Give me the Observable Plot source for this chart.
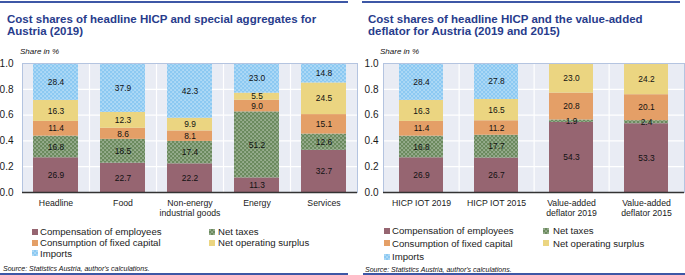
<!DOCTYPE html>
<html><head><meta charset="utf-8">
<script src="https://cdn.jsdelivr.net/npm/d3@7"></script>
<script src="https://cdn.jsdelivr.net/npm/@observablehq/plot@0.6"></script>
<style>
body{margin:0;background:#fff;font-family:"Liberation Sans",Arial,sans-serif;}
#wrap{position:relative;width:685px;height:275px;overflow:hidden;}
.abs{position:absolute;white-space:nowrap;}
.title{font-weight:bold;font-size:11.5px;line-height:12.5px;color:#283c8c;}
.unit{font-style:italic;font-size:8px;color:#111;}
.src{font-style:italic;font-size:7px;color:#111;}
.hline{position:absolute;height:1.5px;background:#3d57a6;}
.leg{position:absolute;font-size:9.6px;color:#222;line-height:11px;white-space:nowrap;}
.sw{position:absolute;}
.chart{position:absolute;top:55px;}
</style></head>
<body>
<svg width="0" height="0" style="position:absolute">
  <defs>
    <pattern id="dotsGreen" width="4" height="4" patternUnits="userSpaceOnUse">
      <rect width="4" height="4" fill="#6b8a5e"></rect>
      <rect x="0.5" y="0.5" width="1.1" height="1.1" fill="#ffffff" fill-opacity="0.85"></rect>
      <rect x="2.5" y="2.5" width="1.1" height="1.1" fill="#ffffff" fill-opacity="0.85"></rect>
    </pattern>
    <pattern id="dotsBlue" width="4" height="4" patternUnits="userSpaceOnUse">
      <rect width="4" height="4" fill="#8cc9f2"></rect>
      <rect x="0.5" y="0.5" width="1.1" height="1.1" fill="#ffffff" fill-opacity="0.85"></rect>
      <rect x="2.5" y="2.5" width="1.1" height="1.1" fill="#ffffff" fill-opacity="0.85"></rect>
    </pattern>
  </defs>
</svg>
<div id="wrap"></div>
<script>
// ---- data ----
const seriesNames = ["Compensation of employees", "Net taxes", "Consumption of fixed capital", "Net operating surplus", "Imports"];
const seriesColors = ["#966571", "url(#dotsGreen)", "#e49f67", "#ebd581", "url(#dotsBlue)"];

const leftCategories = ["Headline", "Food", "Non-energy industrial goods", "Energy", "Services"];
const leftTickLabels = ["Headline", "Food", "Non-energy\nindustrial goods", "Energy", "Services"];
const leftComp    = [26.9, 22.7, 22.2, 11.3, 32.7];
const leftTaxes   = [16.8, 18.5, 17.4, 51.2, 12.6];
const leftCfc     = [11.4, 8.6, 8.1, 9.0, 15.1];
const leftNos     = [16.3, 12.3, 9.9, 5.5, 24.5];
const leftImports = [28.4, 37.9, 42.3, 23.0, 14.8];

const rightCategories = ["HICP IOT 2019", "HICP IOT 2015", "Value-added deflator 2019", "Value-added deflator 2015"];
const rightTickLabels = ["HICP IOT 2019", "HICP IOT 2015", "Value-added\ndeflator 2019", "Value-added\ndeflator 2015"];
const rightComp    = [26.9, 26.7, 54.3, 53.3];
const rightTaxes   = [16.8, 17.7, 1.9, 2.4];
const rightCfc     = [11.4, 11.2, 20.8, 20.1];
const rightNos     = [16.3, 16.5, 23.0, 24.2];
const rightImports = [28.4, 27.8, 0, 0];

const yTicks = [0, 0.2, 0.4, 0.6, 0.8, 1.0];
const gridTicks = [0.2, 0.4, 0.6, 0.8];

const leftTitle = ["Cost shares of headline HICP and special aggregates for", "Austria (2019)"];
const rightTitle = ["Cost shares of headline HICP and the value-added", "deflator for Austria (2019 and 2015)"];
const unitText = "Share in %";
const sourceText = "Source: Statistics Austria, author's calculations.";

// ---- helpers ----
function table(cats, seriesValues) {
  const rows = [];
  seriesValues.forEach((vals, i) => {
    vals.forEach((v, j) => {
      if (v > 0) rows.push({cat: cats[j], series: seriesNames[i], pct: v, value: v / 100});
    });
  });
  return rows;
}

function chart({cats, labels, values, width, ml, mr, pad, yPad}) {
  const data = table(cats, values);
  const step = (width - ml - mr) / cats.length;
  return Plot.plot({
    width, height: 167,
    marginLeft: ml, marginRight: mr, marginTop: 8, marginBottom: 30,
    style: {background: "transparent", overflow: "visible", fontFamily: "'Liberation Sans', Arial, sans-serif", color: "#1a1a1a"},
    x: {domain: cats, paddingInner: pad, paddingOuter: pad / 2, label: null, axis: null},
    y: {domain: [0, 1], label: null, axis: null},
    color: {domain: seriesNames, range: seriesColors},
    marks: [
      Plot.frame({fill: "#e9ecf4", stroke: null}),
      Plot.ruleY(gridTicks, {stroke: "white", strokeWidth: 1.2}),
      Plot.ruleX(cats.slice(0, -1), {x: d => d, stroke: "white", strokeWidth: 1.2, dx: step / 2}),
      Plot.barY(data, {x: "cat", y: "value", fill: "series", order: seriesNames}),
      Plot.text(data, Plot.stackY({x: "cat", y: "value", z: "series", order: seriesNames,
        text: d => d.pct.toFixed(1), fontSize: 8.4, fill: "#111"})),
      Plot.frame({stroke: "#b4c4e0"}),
      Plot.ruleY([0], {stroke: "#333", strokeWidth: 1.6}),
      Plot.axisY(yTicks, {tickFormat: d3.format(".1f"), tickSize: 0, tickPadding: yPad, fontSize: 10, label: null}),
      Plot.axisX({tickSize: 0, tickPadding: 6, fontSize: 8.7, lineHeight: 1.2, label: null,
        tickFormat: d => labels[cats.indexOf(d)]})
    ]
  });
}

const wrap = document.getElementById("wrap");
function add(html, cls, style) {
  const el = document.createElement("div");
  el.className = cls;
  Object.assign(el.style, style);
  el.innerHTML = html;
  wrap.appendChild(el);
  return el;
}

// lines
add("", "hline", {left: "0px", top: "1px", width: "348px"});
add("", "hline", {left: "362px", top: "1px", width: "318px"});
add("", "hline", {left: "0px", top: "273px", width: "348px"});
add("", "hline", {left: "363px", top: "273px", width: "322px"});

// titles
add(leftTitle.join("<br>"), "abs title", {left: "7px", top: "12.5px"});
add(rightTitle.join("<br>"), "abs title", {left: "368px", top: "12.5px"});
add(unitText, "abs unit", {left: "20px", top: "47px"});
add(unitText, "abs unit", {left: "380px", top: "47px"});

// charts
const c1 = chart({cats: leftCategories, labels: leftTickLabels,
  values: [leftComp, leftTaxes, leftCfc, leftNos, leftImports],
  width: 360, ml: 22, mr: 3, pad: 0.33, yPad: 9});
c1.classList.add("chart"); c1.style.left = "0px"; c1.style.position = "absolute"; c1.style.top = "55px";
wrap.appendChild(c1);
const c2 = chart({cats: rightCategories, labels: rightTickLabels,
  values: [rightComp, rightTaxes, rightCfc, rightNos, rightImports],
  width: 340, ml: 38, mr: 1, pad: 0.415, yPad: 5});
c2.classList.add("chart"); c2.style.left = "345px"; c2.style.position = "absolute"; c2.style.top = "55px";
wrap.appendChild(c2);

// legends
function legend(items) {
  items.forEach(([i, sx, tx, cy]) => {
    const s = document.createElementNS("http://www.w3.org/2000/svg", "svg");
    s.setAttribute("width", 6); s.setAttribute("height", 6);
    s.setAttribute("class", "sw");
    s.style.left = sx + "px"; s.style.top = (cy - 3) + "px";
    const r = document.createElementNS("http://www.w3.org/2000/svg", "rect");
    r.setAttribute("width", 6); r.setAttribute("height", 6);
    r.setAttribute("fill", seriesColors[i]);
    s.appendChild(r);
    wrap.appendChild(s);
    add(seriesNames[i], "leg", {left: tx + "px", top: (cy - 5.5) + "px"});
  });
}
legend([[0, 32, 40, 231.7], [2, 32, 40, 242.5], [4, 32, 40, 253], [1, 209, 218, 231.7], [3, 209, 218, 242.5]]);
legend([[0, 384, 392, 230.7], [2, 384, 392, 243.3], [4, 384, 392, 256.5], [1, 543, 553, 230.7], [3, 543, 553, 243.3]]);

// sources
add(sourceText, "abs src", {left: "3px", top: "264.5px"});
add(sourceText, "abs src", {left: "365px", top: "265.5px"});
</script>
</body></html>
